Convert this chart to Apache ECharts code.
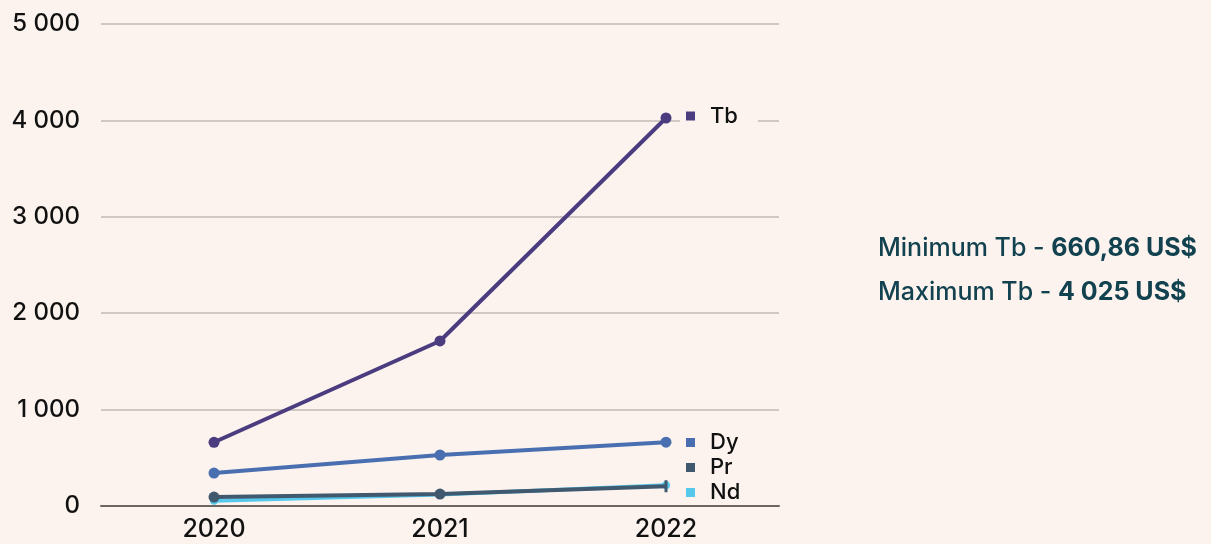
<!DOCTYPE html>
<html>
<head>
<meta charset="utf-8">
<script src="https://cdn.jsdelivr.net/npm/echarts@6/dist/echarts.min.js"></script>
<style>
html,body{margin:0;padding:0;background:#fcf3ee;}
#main{width:1211px;height:544px;}
</style>
</head>
<body>
<div id="main"></div>
<script>
// donnees du graphique
var years = ['2020', '2021', '2022'];
var tbValues = [660.86, 1712, 4025];
var dyValues = [342, 529, 662];
var prValues = [93, 124, 205];
var ndValues = [55, 118, 215];
var yTicks = [0, 1000, 2000, 3000, 4000, 5000];

var FONT = 'Inter, "Open Sans", sans-serif';

function fmtNum(v){
	return String(v).replace(/\B(?=(\d{3})+(?!\d))/g, ' ');
}

function drawPrices(){
	var myChart = echarts.init(document.getElementById('main'));
	var legendText = {fontFamily: FONT, fontSize: 22, fontWeight: 500, color: '#111', padding: [0, 0, 0, 10]};
	var option = {
		backgroundColor: '#fcf3ee',
		animation: false,
		grid: {left: 101, right: 432, top: 24, bottom: 38},
		legend: [
			{
				data: ['Tb'],
				left: 680, top: 103,
				orient: 'vertical',
				icon: 'rect', itemWidth: 9, itemHeight: 9,
				backgroundColor: '#fcf3ee',
				padding: [2, 20, 2, 6],
				textStyle: legendText
			},
			{
				data: ['Dy', 'Pr', 'Nd'],
				left: 684, top: 428,
				orient: 'vertical',
				icon: 'rect', itemWidth: 9, itemHeight: 9, itemGap: 0,
				padding: 2,
				textStyle: {fontFamily: FONT, fontSize: 22, fontWeight: 500, color: '#111', padding: [0, 0, 0, 10], lineHeight: 25}
			}
		],
		xAxis: {
			type: 'category',
			data: years,
			boundaryGap: true,
			axisLine: {lineStyle: {color: '#6e6560', width: 2}},
			axisTick: {show: false},
			axisLabel: {fontFamily: FONT, fontSize: 25, fontWeight: 500, color: '#111', margin: 11}
		},
		yAxis: {
			type: 'value',
			min: 0, max: 5000, interval: 1000,
			axisLine: {show: false},
			axisTick: {show: false},
			splitLine: {lineStyle: {color: '#c4bab5', width: 1.5}},
			axisLabel: {
				fontFamily: FONT, fontSize: 24, fontWeight: 500, color: '#111', margin: 21,
				formatter: function(v){ return yTicks.indexOf(v) >= 0 ? fmtNum(v) : ''; }
			}
		},
		graphic: [
			{
				type: 'text', left: 878, top: 236,
				style: {
					rich: {
						a: {fontFamily: FONT, fontSize: 25, fill: '#12424f', fontWeight: 500},
						b: {fontFamily: FONT, fontSize: 25, fill: '#12424f', fontWeight: 'bold'}
					},
					text: '{a|Minimum Tb - }{b|660,86 US$}'
				}
			},
			{
				type: 'text', left: 878, top: 280,
				style: {
					rich: {
						a: {fontFamily: FONT, fontSize: 25, fill: '#12424f', fontWeight: 500},
						b: {fontFamily: FONT, fontSize: 25, fill: '#12424f', fontWeight: 'bold'}
					},
					text: '{a|Maximum Tb - }{b|4 025 US$}'
				}
			}
		],
		series: [
			{
				name: 'Nd', type: 'line', data: ndValues,
				symbol: 'circle', symbolSize: 8, z: 1,
				itemStyle: {color: '#55c8ec'},
				lineStyle: {width: 4, color: '#55c8ec'}
			},
			{
				name: 'Pr', type: 'line',
				data: [prValues[0], prValues[1], {value: prValues[2], symbol: 'rect', symbolSize: [3, 12]}],
				symbol: 'circle', symbolSize: 11, z: 2,
				itemStyle: {color: '#40596f'},
				lineStyle: {width: 4, color: '#40596f'}
			},
			{
				name: 'Dy', type: 'line', data: dyValues,
				symbol: 'circle', symbolSize: 11, z: 3,
				itemStyle: {color: '#4a6fb0'},
				lineStyle: {width: 4, color: '#4a6fb0'}
			},
			{
				name: 'Tb', type: 'line', data: tbValues,
				symbol: 'circle', symbolSize: 11, z: 4,
				itemStyle: {color: '#4b3c7f'},
				lineStyle: {width: 4, color: '#4b3c7f'}
			}
		]
	};
	myChart.setOption(option);
}

drawPrices();
</script>
</body>
</html>
